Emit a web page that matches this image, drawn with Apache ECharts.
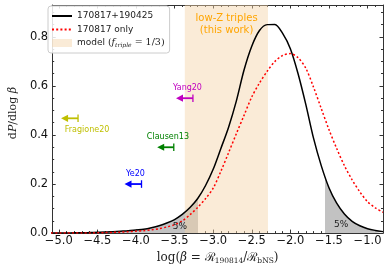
<!DOCTYPE html>
<html><head><meta charset="utf-8">
<script src="https://cdn.jsdelivr.net/npm/echarts@6/dist/echarts.min.js"></script>
<style>html,body{margin:0;padding:0;background:#fff}#c{width:390px;height:270px}</style>
</head><body><div id="c"></div>
<script>
// ---- data ----
const logBeta = [-5.1,-5.0,-4.9,-4.8,-4.7,-4.6,-4.5,-4.4,-4.3,-4.2,-4.1,-4.0,-3.9,-3.8,-3.7,-3.6,-3.5,-3.4,-3.3,-3.2,-3.1,-3.0,-2.9,-2.8,-2.7,-2.6,-2.5,-2.4,-2.3,-2.2,-2.1,-2.0,-1.9,-1.8,-1.7,-1.6,-1.5,-1.4,-1.3,-1.2,-1.1,-1.0,-0.9,-0.8];
const pBoth = [0.000,0.000,0.000,0.001,0.001,0.002,0.003,0.004,0.006,0.008,0.010,0.013,0.016,0.022,0.030,0.041,0.055,0.076,0.104,0.141,0.193,0.260,0.345,0.432,0.538,0.665,0.762,0.826,0.850,0.851,0.814,0.752,0.650,0.525,0.387,0.275,0.185,0.122,0.078,0.048,0.030,0.018,0.011,0.006];
const pOnly = [0.000,0.000,0.000,0.000,0.000,0.000,0.001,0.002,0.003,0.004,0.006,0.008,0.010,0.013,0.018,0.025,0.034,0.050,0.075,0.105,0.140,0.183,0.252,0.328,0.405,0.480,0.555,0.612,0.660,0.700,0.724,0.732,0.715,0.672,0.595,0.508,0.422,0.345,0.275,0.217,0.168,0.128,0.103,0.085];
const xTickValues = [-5.0,-4.5,-4.0,-3.5,-3.0,-2.5,-2.0,-1.5,-1.0];
const yTickValues = [0.0,0.2,0.4,0.6,0.8];
const modelBand = [-3.367, -2.29];
const tailCuts = [-3.2, -1.55];
const refNames = ['Fragione20','Clausen13','Ye20','Yang20'];
const refTip = [-4.97,-3.725,-4.148,-3.481];
const refUpper = [-4.75,-3.51,-3.928,-3.262];
const refY = [0.468,0.35,0.2,0.55];
const refLabelX = [-4.633,-3.586,-4.006,-3.333];
const refLabelY = [0.421,0.391,0.241,0.591];
const noteText = ['low-Z triples\n(this work)','5%','5%'];
const noteX = [-2.826,-3.43,-1.342];
const noteY = [0.851,0.028,0.035];

// ---- styles ----
const XMIN = -5.085, XMAX = -0.8, YMIN = 0, YMAX = 0.93;
const AX = '#333';
const refColors = ['#bfbf00','#008000','#0000ff','#c000c0'];
const bandColor = 'rgba(244,211,166,0.45)';
const greyColor = '#c2c2c2';
const noteColors = ['#ffa500','#222','#222'];
const noteFonts = ['10px "DejaVu Sans"','9px "DejaVu Sans"','9px "DejaVu Sans"'];

const xMinor = []; for (let k = -51; k <= -8; k++) xMinor.push(k/10);
const yMinor = []; for (let k = 0; k <= 18; k++) yMinor.push(k*0.05);
const fmtX = v => (v < 0 ? '\u2212' : '') + Math.abs(v).toFixed(1);

function xAx(pos, vals, len, main, extra) {
  return Object.assign({type:'value', min:XMIN, max:XMAX, position:pos,
    axisLine:{show:main, onZero:false, lineStyle:{color:AX, width:1}},
    splitLine:{show:false},
    axisTick:{show:true, inside:true, length:len, customValues:vals, lineStyle:{color:AX, width:1}},
    axisLabel:{show:false, customValues:vals}}, extra||{});
}
function yAx(pos, vals, len, main, extra) {
  return Object.assign({type:'value', min:YMIN, max:YMAX, position:pos,
    axisLine:{show:main, onZero:false, lineStyle:{color:AX, width:1}},
    splitLine:{show:false},
    axisTick:{show:true, inside:true, length:len, customValues:vals, lineStyle:{color:AX, width:1}},
    axisLabel:{show:false, customValues:vals}}, extra||{});
}

const serif = '"DejaVu Serif", "Liberation Serif", serif';
const chart = echarts.init(document.getElementById('c'), null, {renderer:'canvas'});
chart.setOption({
  animation:false,
  grid:{left:44, right:7, top:5, bottom:33, containLabel:false},
  xAxis:[
    xAx('bottom', xTickValues, 3.5, true, {
      axisLabel:{show:true, customValues:xTickValues, formatter:fmtX, margin:2, color:'#111', fontFamily:'DejaVu Sans', fontSize:11.5},
      name:'{r|log(}{i|\u03b2}{r| = }{r|\u211b}{s|190814}{r|/}{r|\u211b}{s|bNS}{r|)}',
      nameLocation:'middle', nameGap:15,
      nameTextStyle:{fontFamily:serif, fontSize:12, color:'#222', verticalAlign:'top',
        rich:{r:{fontFamily:serif, fontSize:12, lineHeight:14, color:'#222'},
              i:{fontFamily:serif, fontSize:12, fontStyle:'italic', lineHeight:14, color:'#222'},
              s:{fontFamily:serif, fontSize:7.5, lineHeight:9, verticalAlign:'bottom', color:'#222'}}}
    }),
    xAx('bottom', xMinor, 2, false),
    xAx('top', xTickValues, 3.5, true),
    xAx('top', xMinor, 2, false)
  ],
  yAxis:[
    yAx('left', yTickValues, 3.5, true, {
      axisLabel:{show:true, customValues:yTickValues, formatter:v=>v.toFixed(1), margin:4, color:'#111', fontFamily:'DejaVu Sans', fontSize:11.5},
      name:'{r|d}{i|P}{r|/dlog}{i| \u03b2}', nameLocation:'middle', nameGap:27, nameRotate:90,
      nameTextStyle:{fontFamily:serif, fontSize:11, color:'#222', padding:[0,0,0,12],
        rich:{r:{fontFamily:serif, fontSize:11, color:'#222'}, i:{fontFamily:serif, fontSize:11, fontStyle:'italic', color:'#222'}}}
    }),
    yAx('left', yMinor, 2, false),
    yAx('right', yTickValues, 3.5, true),
    yAx('right', yMinor, 2, false)
  ],
  legend:{orient:'vertical', left:48, top:6, padding:[5,5,5,3], itemGap:3.5, itemWidth:20, itemHeight:8,
    backgroundColor:'rgba(255,255,255,0.85)', borderColor:'#ccc', borderWidth:1, borderRadius:3,
    selectedMode:false,
    itemStyle:{opacity:0, borderWidth:0},
    textStyle:{fontFamily:'DejaVu Sans', fontSize:9, color:'#222', lineHeight:10,
      rich:{n:{fontFamily:'DejaVu Sans', fontSize:9, color:'#222'},
            i:{fontFamily:serif, fontStyle:'italic', fontSize:9.5, color:'#222'},
            s:{fontFamily:serif, fontStyle:'italic', fontSize:6, lineHeight:7, verticalAlign:'bottom', color:'#222'},
            e:{fontFamily:serif, fontSize:9.5, color:'#222'}}},
    formatter: n => n === 'model' ? '{n|model }{e|(}{i|f}{s|triple}{e| = 1/3)}' : n,
    data:[{name:'170817+190425'},{name:'170817 only'},{name:'model', icon:'rect', itemStyle:{color:bandColor, opacity:1}}]
  },
  visualMap:{type:'piecewise', show:false, seriesIndex:0, dimension:0,
    pieces:[{lt:tailCuts[0], color:greyColor},{gte:tailCuts[0], lt:tailCuts[1], color:'rgba(0,0,0,0)'},{gte:tailCuts[1], color:greyColor}]},
  series:[
    {name:'tails', type:'line', z:1, symbol:'none', smooth:0.3, data:logBeta.map((x,i)=>[x,pBoth[i]]),
      lineStyle:{width:0}, areaStyle:{opacity:1}, silent:true},
    {name:'model', type:'custom', z:2, silent:true, itemStyle:{color:bandColor},
      data:[[modelBand[0], modelBand[1]]], encode:{x:[0,1]},
      renderItem:(params, api) => {
        const a = api.coord([api.value(0), YMIN]), b = api.coord([api.value(1), YMAX]);
        return {type:'rect', shape:{x:a[0], y:b[1], width:b[0]-a[0], height:a[1]-b[1]}, style:{fill:bandColor}};
      }},
    {name:'170817+190425', type:'line', z:4, symbol:'none', smooth:0.3, color:'#000',
      data:logBeta.map((x,i)=>[x,pBoth[i]]), lineStyle:{color:'#000', width:1.5}},
    {name:'170817 only', type:'line', z:4, symbol:'none', smooth:0.3, color:'#ff0000',
      data:logBeta.map((x,i)=>[x,pOnly[i]]), lineStyle:{color:'#ff0000', width:1.5, type:[2,2.2]}},
    {name:'refs', type:'custom', z:5, silent:true,
      data:refNames.map((n,i)=>[refTip[i], refUpper[i], refY[i]]), encode:{x:[0,1], y:2},
      renderItem:(params, api) => {
        const i = params.dataIndex;
        const tip = api.coord([api.value(0), api.value(2)]);
        const cap = api.coord([api.value(1), api.value(2)]);
        const lab = api.coord([refLabelX[i], refLabelY[i]]);
        const c = refColors[i];
        return {type:'group', children:[
          {type:'line', shape:{x1:tip[0]+5, y1:tip[1], x2:cap[0], y2:cap[1]}, style:{stroke:c, lineWidth:1.8}},
          {type:'polygon', shape:{points:[[tip[0],tip[1]],[tip[0]+7,tip[1]-3.6],[tip[0]+7,tip[1]+3.6]]}, style:{fill:c}},
          {type:'line', shape:{x1:cap[0], y1:cap[1]-3.8, x2:cap[0], y2:cap[1]+3.8}, style:{stroke:c, lineWidth:1.3}},
          {type:'text', x:lab[0], y:lab[1], style:{text:refNames[i], fill:c, font:'8px "DejaVu Sans"', align:'center', verticalAlign:'middle'}}
        ]};
      }},
    {name:'notes', type:'custom', z:5, silent:true,
      data:noteText.map((t,i)=>[noteX[i], noteY[i]]),
      renderItem:(params, api) => {
        const i = params.dataIndex;
        const p = api.coord([api.value(0), api.value(1)]);
        return {type:'text', x:p[0], y:p[1], style:{text:noteText[i], fill:noteColors[i], font:noteFonts[i], align:'center', verticalAlign:'middle', lineHeight:11.7}};
      }}
  ]
});
</script>
</body></html>
